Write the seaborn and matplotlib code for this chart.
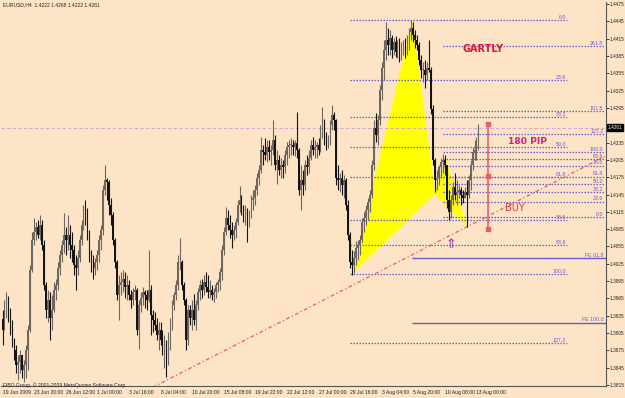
import numpy as np
import pandas as pd
import matplotlib
matplotlib.use("Agg")
import matplotlib.pyplot as plt
import seaborn as sns

# EURUSD H4 bars, prices in pips (price * 10000)
hi = [13945, 13962, 13976, 13969, 13949, 13928, 13897, 13884, 13867, 13876,
      13862, 13858, 13884, 13919, 14023, 14080, 14104, 14097, 14101, 14110,
      14101, 14066, 13993, 13980, 13976, 13971, 13993, 13999, 14028, 14049,
      14066, 14113, 14088, 14110, 14092, 14080, 14058, 14040, 14049, 14075,
      14101, 14127, 14136, 14122, 14084, 14049, 14040, 14035, 14049, 14075,
      14092, 14161, 14196, 14174, 14170, 14139, 14115, 14070, 14032, 14006,
      14011, 14014, 14011, 14006, 13997, 13980, 13983, 13988, 13983, 13962,
      13976, 13985, 13980, 13980, 14049, 13988, 13945, 13941, 13931, 13924,
      13924, 13910, 13902, 13893, 13907, 13931, 13962, 13976, 13997, 14040,
      14070, 14032, 13993, 13966, 13954, 13954, 13962, 13973, 13962, 13983,
      13997, 13999, 14006, 14011, 14006, 13997, 13988, 13983, 13993, 13999,
      14018, 14058, 14088, 14123, 14118, 14110, 14097, 14092, 14104, 14136,
      14159, 14144, 14127, 14127, 14122, 14118, 14144, 14153, 14161, 14183,
      14196, 14245, 14231, 14243, 14239, 14239, 14231, 14274, 14248, 14222,
      14213, 14208, 14205, 14222, 14236, 14239, 14243, 14239, 14239, 14288,
      14225, 14196, 14187, 14205, 14213, 14222, 14239, 14245, 14239, 14236,
      14243, 14265, 14296, 14276, 14253, 14248, 14274, 14300, 14288, 14276,
      14196, 14183, 14187, 14179, 14174, 14136, 14080, 14049, 14047, 14064,
      14066, 14075, 14104, 14115, 14127, 14139, 14153, 14205, 14274, 14286,
      14283, 14335, 14374, 14413, 14444, 14433, 14430, 14421, 14416, 14419,
      14413, 14416, 14409, 14413, 14416, 14421, 14433, 14447, 14444, 14430,
      14421, 14409, 14387, 14374, 14378, 14374, 14413, 14366, 14300, 14208,
      14187, 14196, 14208, 14216, 14213, 14196, 14153, 14144, 14166, 14183,
      14170, 14161, 14158, 14153, 14158, 14170, 14179, 14205, 14227, 14239,
      14245, 14268]
lo = [13884, 13910, 13931, 13924, 13902, 13880, 13858, 13836, 13824, 13836,
      13827, 13820, 13827, 13841, 13907, 14011, 14058, 14066, 14070, 14066,
      14049, 13980, 13931, 13924, 13893, 13910, 13941, 13962, 13980, 14006,
      14028, 14044, 14040, 14049, 14035, 14028, 14006, 13980, 14006, 14028,
      14058, 14084, 14092, 14066, 14028, 14011, 13999, 14006, 14014, 14028,
      14049, 14075, 14144, 14136, 14110, 14092, 14058, 14018, 13962, 13928,
      13971, 13976, 13966, 13962, 13962, 13949, 13954, 13962, 13902, 13878,
      13941, 13954, 13949, 13945, 13959, 13902, 13907, 13910, 13893, 13876,
      13884, 13867, 13845, 13829, 13850, 13876, 13910, 13945, 13962, 13980,
      14014, 13980, 13954, 13876, 13884, 13919, 13910, 13919, 13910, 13945,
      13962, 13966, 13971, 13976, 13966, 13966, 13962, 13959, 13966, 13976,
      13980, 13997, 14040, 14075, 14084, 14070, 14053, 14066, 14070, 14092,
      14115, 14110, 14097, 14092, 14062, 14088, 14104, 14118, 14127, 14144,
      14161, 14183, 14196, 14205, 14201, 14205, 14196, 14213, 14187, 14164,
      14179, 14174, 14174, 14183, 14196, 14208, 14213, 14213, 14211, 14208,
      14144, 14118, 14144, 14153, 14179, 14183, 14205, 14213, 14208, 14208,
      14213, 14218, 14243, 14231, 14222, 14225, 14231, 14257, 14257, 14161,
      14153, 14149, 14144, 14139, 14118, 14066, 14018, 14006, 14009, 14023,
      14032, 14040, 14062, 14080, 14092, 14101, 14115, 14139, 14187, 14236,
      14231, 14265, 14309, 14343, 14378, 14387, 14387, 14382, 14387, 14384,
      14382, 14375, 14378, 14387, 14382, 14387, 14395, 14413, 14409, 14399,
      14395, 14369, 14347, 14340, 14330, 14343, 14357, 14285, 14196, 14149,
      14153, 14161, 14174, 14183, 14179, 14122, 14101, 14104, 14127, 14136,
      14127, 14139, 14127, 14131, 14139, 14088, 14139, 14153, 14187, 14205,
      14205, 14222]
cl = [13910, 13954, 13962, 13936, 13919, 13893, 13876, 13850, 13855, 13867,
      13841, 13850, 13876, 13910, 14014, 14066, 14080, 14088, 14075, 14092,
      14058, 13988, 13945, 13962, 13931, 13945, 13980, 13988, 14018, 14040,
      14058, 14075, 14066, 14075, 14058, 14049, 14023, 14018, 14035, 14066,
      14092, 14118, 14110, 14075, 14035, 14023, 14018, 14028, 14040, 14066,
      14084, 14153, 14170, 14167, 14127, 14110, 14066, 14028, 13971, 13988,
      13993, 13999, 13984, 13988, 13971, 13962, 13976, 13980, 13910, 13954,
      13966, 13976, 13971, 13962, 13980, 13936, 13928, 13919, 13902, 13910,
      13893, 13876, 13884, 13858, 13893, 13919, 13954, 13971, 13988, 14028,
      14028, 13988, 13962, 13893, 13945, 13931, 13945, 13928, 13954, 13976,
      13988, 13980, 13993, 13984, 13976, 13980, 13971, 13976, 13988, 13993,
      14011, 14049, 14080, 14104, 14092, 14084, 14075, 14084, 14097, 14127,
      14136, 14118, 14110, 14113, 14101, 14110, 14136, 14139, 14153, 14174,
      14187, 14222, 14218, 14213, 14227, 14218, 14222, 14239, 14196, 14205,
      14187, 14196, 14192, 14213, 14227, 14231, 14231, 14227, 14234, 14222,
      14153, 14170, 14161, 14196, 14192, 14208, 14231, 14222, 14227, 14231,
      14222, 14257, 14270, 14239, 14236, 14239, 14265, 14283, 14274, 14174,
      14170, 14174, 14161, 14170, 14127, 14075, 14028, 14023, 14035, 14053,
      14058, 14066, 14097, 14104, 14118, 14132, 14144, 14196, 14260, 14248,
      14274, 14326, 14364, 14395, 14413, 14404, 14416, 14395, 14409, 14392,
      14404, 14387, 14399, 14404, 14395, 14413, 14426, 14433, 14421, 14413,
      14404, 14378, 14361, 14361, 14352, 14364, 14361, 14293, 14205, 14170,
      14174, 14192, 14201, 14205, 14196, 14136, 14115, 14136, 14158, 14144,
      14149, 14153, 14144, 14139, 14149, 14144, 14170, 14196, 14218, 14222,
      14222, 14261]
first_open = 13930

time_labels = ["19 Jun 2009", "23 Jun 20:00", "26 Jun 12:00", "1 Jul 00:00",
               "3 Jul 16:00", "8 Jul 04:00", "10 Jul 20:00", "15 Jul 08:00",
               "19 Jul 22:00", "22 Jul 12:00", "27 Jul 00:00", "29 Jul 16:00",
               "3 Aug 04:00", "5 Aug 20:00", "10 Aug 08:00", "13 Aug 00:00"]
price_ticks = [1.4475, 1.4445, 1.4415, 1.4385, 1.4355, 1.4325, 1.4295, 1.4235,
               1.4205, 1.4175, 1.4145, 1.4115, 1.4085, 1.4055, 1.4025, 1.3995,
               1.3965, 1.3935, 1.3905, 1.3875, 1.3845, 1.3815]
last_price = 1.4261

# fibo retracement X-A and the extension set
xa_levels = [0.0, 23.6, 38.2, 50.0, 61.8, 78.6, 88.6, 100.0, 127.2]
xa_high, xa_low = 1.4447, 1.4007
ext_levels = [0.0, 23.6, 38.2, 50.0, 61.8, 78.6, 88.6, 100.0, 127.2, 161.8, 261.8]
ext_zero, ext_full = 1.4106, 1.4219
fe_names = ["FE 61.8", "FE 100.0"]
fe_prices = [1.4035, 1.3923]

# gartley pattern points (bar index, price)
xab_bar = [177, 207.5, 219]
xab_price = [1.4007, 1.4447, 1.4146]
bcd_bar = [219, 224.5, 235.7]
bcd_price = [1.4146, 1.4205, 1.4087]
trend_bar = [76, 305]
trend_price = [1.3811, 1.4211]
pip_bar = 245.8
pip_prices = [1.4268, 1.4177, 1.4085]

bg = "#fde4c6"
blue = "#6a5acd"
small = ["Liberation Sans Narrow", "Liberation Sans", "DejaVu Sans"]

sns.set_theme(style="white", rc={"axes.facecolor": bg, "figure.facecolor": bg})
plt.rcParams["font.family"] = ["DejaVu Sans"]

df = pd.DataFrame({"high": np.array(hi) / 1e4, "low": np.array(lo) / 1e4,
                   "close": np.array(cl) / 1e4})
df["open"] = df["close"].shift(1).fillna(first_open / 1e4)
df["bar"] = np.arange(len(df))
up = df["close"] >= df["open"]

fig = plt.figure(figsize=(6.25, 3.98), dpi=100)
ax = fig.add_axes([1 / 625, 12 / 398, 605 / 625, 384 / 398])
ax.set_xlim(-0.76, 305.57)
ax.set_ylim(1.38133, 1.44785)

# gartley triangles behind the bars
ax.fill(xab_bar, xab_price, color="#ffff00", lw=0, zorder=1)
ax.fill(bcd_bar, bcd_price, color="#ffff00", lw=0, zorder=1)

# current price line
ax.axhline(last_price, color="#d8a8d4", lw=0.8, ls=(0, (3, 2)), zorder=1)

# fibo lines
for r in xa_levels:
    p = xa_high - r / 100 * (xa_high - xa_low)
    ax.hlines(p, 176, 285.8, color=blue, lw=0.9, ls=(0, (1.2, 1.2)), zorder=2)
    ax.text(285.3, p + 0.00005, f"{r:.1f}", color=blue, fontsize=3.8, family=small,
            ha="right", va="bottom", zorder=5)
for r in ext_levels:
    p = ext_zero + r / 100 * (ext_full - ext_zero)
    ax.hlines(p, 223, 305, color=blue, lw=0.9, ls=(0, (1.2, 1.2)), zorder=2)
    ax.text(304.2, p + 0.00005, f"{r:.1f}", color=blue, fontsize=3.8, family=small,
            ha="right", va="bottom", zorder=5)
for name, p in zip(fe_names, fe_prices):
    ax.hlines(p, 207.3, 305.6, color=blue, lw=1.0, zorder=2)
    ax.text(304.2, p + 0.00005, name, color=blue, fontsize=3.8, family=small,
            ha="right", va="bottom", zorder=5)

# trend line
sns.lineplot(x=trend_bar, y=trend_price, ax=ax, color="#e46060", lw=0.9,
             linestyle=(0, (3, 2, 1, 2)), zorder=2)

# candles
for mask, col in [(up, "#6f675d"), (~up, "#141414")]:
    d = df[mask]
    ax.vlines(d["bar"], d["low"], d["high"], color=col, lw=0.8, zorder=3)
    body = (d["close"] - d["open"]).abs().clip(lower=0.00008)
    ax.bar(d["bar"], body, bottom=d[["open", "close"]].min(axis=1), width=0.85,
           color=col, lw=0, zorder=3)

# 180 pip measure
ax.vlines(pip_bar, pip_prices[-1], pip_prices[0], color="#e4606e", lw=1.2, zorder=4)
ax.scatter([pip_bar] * 3, pip_prices, marker="s", s=5, color="#e4606e", zorder=4)

ax.text(232.7, 1.4397, "GARTLY", color="#dc143c", fontsize=7, fontweight="bold", va="center", zorder=6)
ax.text(256, 1.4236, "180 PIP", color="#cc2277", fontsize=6.6, fontweight="bold", va="center", zorder=6)
ax.text(254.4, 1.4122, "BUY", color="#e8323c", fontsize=7, va="center", zorder=6)
ax.text(227.1, 1.4059, "\u21d1", color="#8e2a9e", fontsize=9, ha="center", va="center", zorder=6)

# axes
ax.yaxis.tick_right()
ax.set_yticks(price_ticks)
ax.set_yticklabels([f"{p:.4f}" for p in price_ticks])
ax.set_xticks(np.arange(len(time_labels)) * 16)
ax.set_xticklabels(time_labels, ha="left")
ax.tick_params(axis="x", labelsize=3.6, length=2, width=0.6, pad=0.8, colors="#202020")
ax.tick_params(axis="y", labelsize=3.4, length=2, width=0.6, pad=0.4, colors="#202020")
for lab in ax.get_xticklabels() + ax.get_yticklabels():
    lab.set_family(small)
for s in ["left", "top"]:
    ax.spines[s].set_visible(False)
for s in ["right", "bottom"]:
    ax.spines[s].set_color("#555555")
    ax.spines[s].set_linewidth(0.8)
ax.text(1.0025, last_price, "1.4261", transform=ax.get_yaxis_transform(), fontsize=3.4,
        family=small, color="white", va="center", ha="left",
        bbox=dict(boxstyle="square,pad=0.15", fc="black", ec="black"))

fig.text(3 / 625, 1 - 5 / 398, "EURUSD,H4  1.4222 1.4268 1.4222 1.4261", fontsize=3.6,
         family=small, va="center")
fig.text(3 / 625, 13 / 398, "FIBO Group, \u00a9 2001-2009 MetaQuotes Software Corp.", fontsize=3.6,
         family=small, va="center")

fig.savefig("out.png", dpi=100, facecolor=bg)
